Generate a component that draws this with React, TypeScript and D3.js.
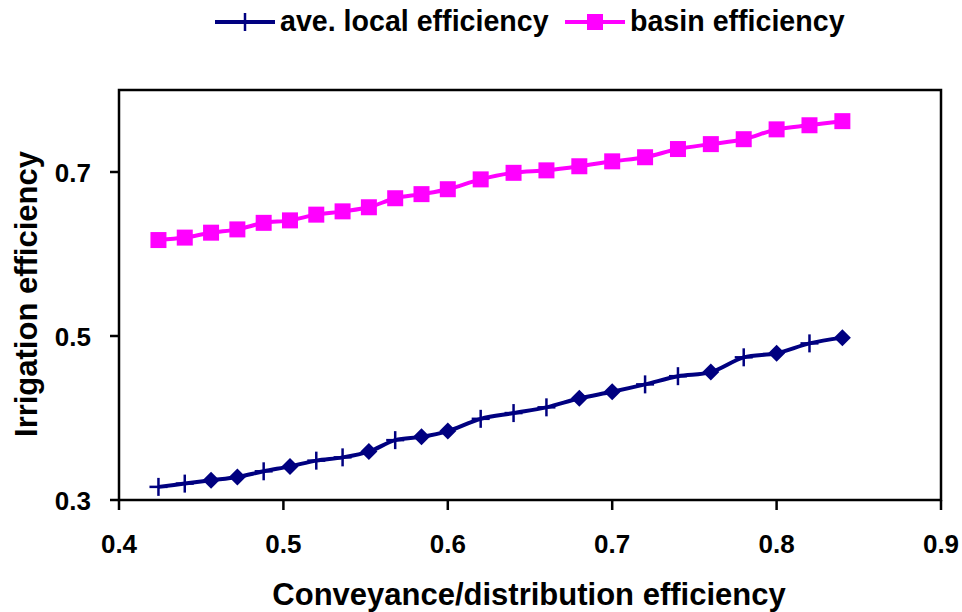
import React, { useEffect, useRef } from "react";
import * as d3 from "d3";

// conveyance/distribution efficiency (x)
const conveyance = [
  0.424, 0.44, 0.456, 0.472, 0.488, 0.504, 0.52, 0.536, 0.552, 0.568, 0.584, 0.6,
  0.62, 0.64, 0.66, 0.68, 0.7, 0.72, 0.74, 0.76, 0.78, 0.8, 0.82, 0.84,
];

const localEff = [
  0.316, 0.32, 0.324, 0.328, 0.335, 0.341, 0.348, 0.352, 0.359, 0.373, 0.377, 0.384,
  0.399, 0.406, 0.413, 0.424, 0.432, 0.441, 0.451, 0.456, 0.474, 0.479, 0.491, 0.498,
];

const basinEff = [
  0.617, 0.62, 0.626, 0.63, 0.638, 0.641, 0.648, 0.652, 0.657, 0.668, 0.673, 0.679,
  0.691, 0.699, 0.702, 0.707, 0.713, 0.718, 0.728, 0.734, 0.74, 0.752, 0.757, 0.762,
];

// points of the local series that are drawn with a diamond instead of a cross
const diamondIdx = [2, 3, 5, 8, 10, 11, 15, 16, 19, 21, 23];

const xTicks = [0.4, 0.5, 0.6, 0.7, 0.8, 0.9];
const yTicks = [0.3, 0.5, 0.7];

const seriesNames = ["ave. local efficiency", "basin efficiency"];

export default function App() {
  const svgRef = useRef<SVGSVGElement | null>(null);

  useEffect(() => {
    if (!svgRef.current) return;
    const svg = d3.select(svgRef.current);
    svg.selectAll("*").remove();

    const left = 119, right = 941, top = 90, bottom = 500;
    const font = "'Liberation Sans', Arial, sans-serif";
    const navy = "#000080";
    const pink = "#FF00FF";

    const x = d3.scaleLinear().domain([0.4, 0.9]).range([left, right]);
    const y = d3.scaleLinear().domain([0.3, 0.8]).range([bottom, top]);

    // frame
    svg.append("rect")
      .attr("x", left).attr("y", top)
      .attr("width", right - left).attr("height", bottom - top)
      .attr("fill", "none").attr("stroke", "#000").attr("stroke-width", 2.5);

    // x ticks + labels
    const gx = svg.append("g");
    xTicks.forEach((t) => {
      gx.append("line")
        .attr("x1", x(t)).attr("x2", x(t))
        .attr("y1", bottom).attr("y2", bottom + 10)
        .attr("stroke", "#000").attr("stroke-width", 2.5);
      gx.append("text")
        .attr("x", x(t)).attr("y", bottom + 53)
        .attr("text-anchor", "middle")
        .attr("font-family", font).attr("font-weight", "bold").attr("font-size", 26)
        .text(d3.format(".1f")(t));
    });

    // y ticks + labels
    const gy = svg.append("g");
    yTicks.forEach((t) => {
      gy.append("line")
        .attr("x1", left - 9).attr("x2", left)
        .attr("y1", y(t)).attr("y2", y(t))
        .attr("stroke", "#000").attr("stroke-width", 2.5);
      gy.append("text")
        .attr("x", 91).attr("y", y(t) + 9.5)
        .attr("text-anchor", "end")
        .attr("font-family", font).attr("font-weight", "bold").attr("font-size", 26)
        .text(d3.format(".1f")(t));
    });

    // axis titles
    svg.append("text")
      .attr("x", 529).attr("y", 605)
      .attr("text-anchor", "middle")
      .attr("font-family", font).attr("font-weight", "bold").attr("font-size", 31)
      .text("Conveyance/distribution efficiency");

    svg.append("text")
      .attr("transform", "translate(37,294) rotate(-90)")
      .attr("text-anchor", "middle")
      .attr("font-family", font).attr("font-weight", "bold").attr("font-size", 31)
      .text("Irrigation efficiency");

    const line = d3.line<number>()
      .x((_, i) => x(conveyance[i]))
      .y((d) => y(d))
      .curve(d3.curveCatmullRom.alpha(0.5));

    // basin series
    svg.append("path")
      .datum(basinEff)
      .attr("fill", "none").attr("stroke", pink).attr("stroke-width", 4)
      .attr("d", line);
    svg.append("g").selectAll("rect")
      .data(basinEff)
      .join("rect")
      .attr("x", (_, i) => x(conveyance[i]) - 8)
      .attr("y", (d) => y(d) - 8)
      .attr("width", 16).attr("height", 16)
      .attr("fill", pink);

    // local series
    svg.append("path")
      .datum(localEff)
      .attr("fill", "none").attr("stroke", navy).attr("stroke-width", 4)
      .attr("d", line);
    const gm = svg.append("g");
    localEff.forEach((d, i) => {
      const cx = x(conveyance[i]);
      const cy = y(d);
      if (diamondIdx.includes(i)) {
        gm.append("path")
          .attr("d", `M${cx},${cy - 8.5}L${cx + 8.5},${cy}L${cx},${cy + 8.5}L${cx - 8.5},${cy}Z`)
          .attr("fill", navy);
      } else {
        gm.append("line")
          .attr("x1", cx).attr("x2", cx)
          .attr("y1", cy - 9).attr("y2", cy + 9)
          .attr("stroke", navy).attr("stroke-width", 2.5);
        gm.append("line")
          .attr("x1", cx - 9).attr("x2", cx + 9)
          .attr("y1", cy).attr("y2", cy)
          .attr("stroke", navy).attr("stroke-width", 2.5);
      }
    });

    // legend
    const lg = svg.append("g");
    // local
    lg.append("line")
      .attr("x1", 215).attr("x2", 275).attr("y1", 22).attr("y2", 22)
      .attr("stroke", navy).attr("stroke-width", 4);
    lg.append("line")
      .attr("x1", 245).attr("x2", 245).attr("y1", 13).attr("y2", 31)
      .attr("stroke", navy).attr("stroke-width", 2.5);
    lg.append("text")
      .attr("x", 280).attr("y", 31)
      .attr("font-family", font).attr("font-weight", "bold").attr("font-size", 28.6)
      .text(seriesNames[0]);
    // basin
    lg.append("line")
      .attr("x1", 565).attr("x2", 625).attr("y1", 22).attr("y2", 22)
      .attr("stroke", pink).attr("stroke-width", 4);
    lg.append("rect")
      .attr("x", 587).attr("y", 14).attr("width", 16).attr("height", 16)
      .attr("fill", pink);
    lg.append("text")
      .attr("x", 630).attr("y", 31)
      .attr("font-family", font).attr("font-weight", "bold").attr("font-size", 28.6)
      .text(seriesNames[1]);
  }, []);

  return (
    <svg
      ref={svgRef}
      width={962}
      height={612}
      style={{ position: "absolute", left: 0, top: 0, background: "#fff" }}
    />
  );
}
